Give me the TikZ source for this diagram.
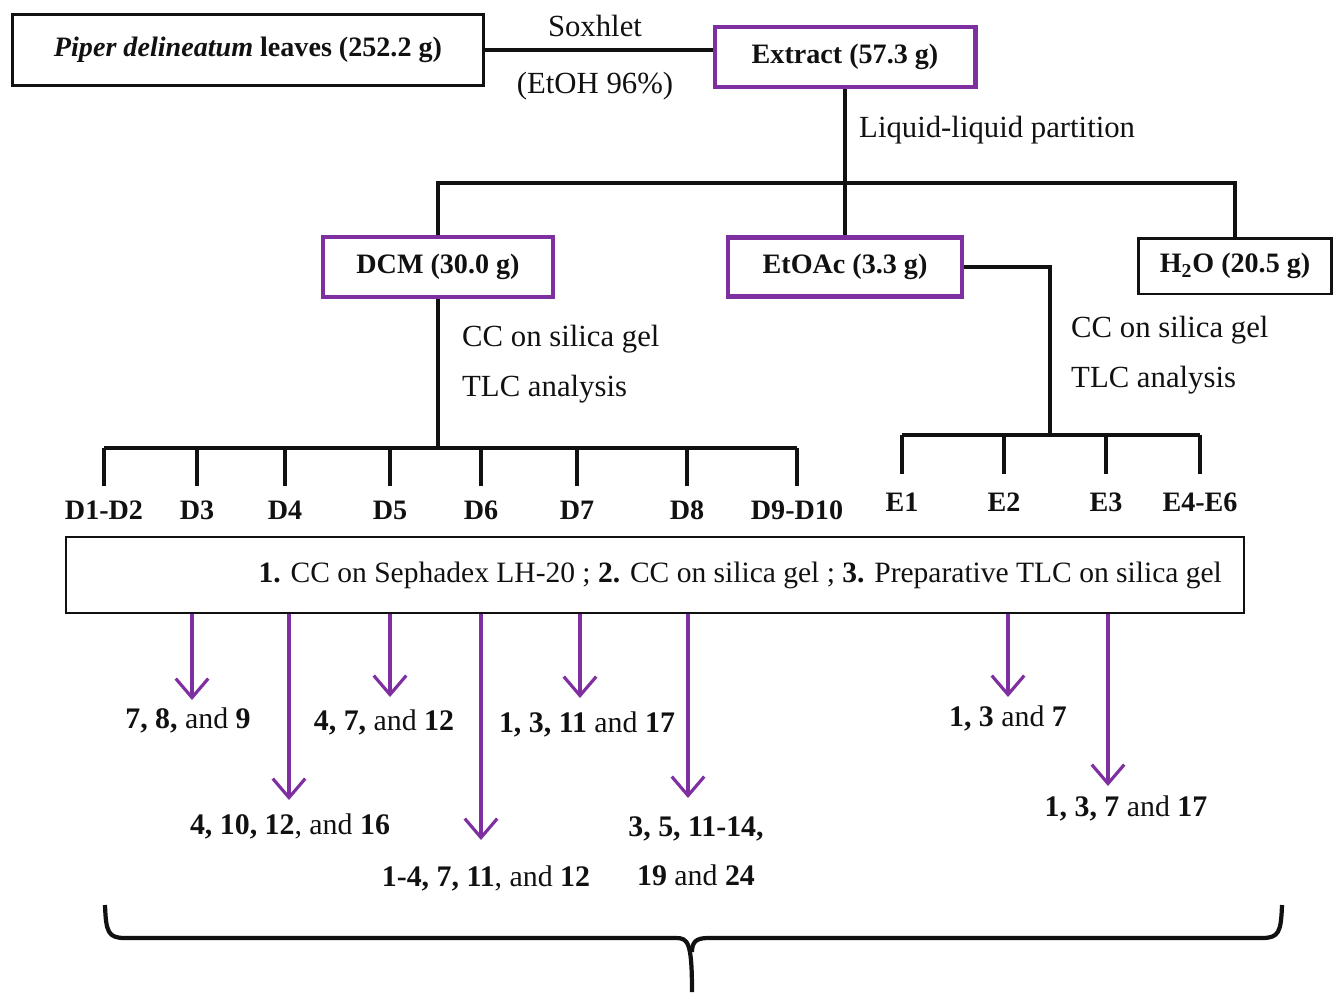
\documentclass[tikz,border=0pt]{standalone}
\usepackage{fontspec}
\setmainfont{Liberation Serif}
\usetikzlibrary{arrows.meta,positioning}
\definecolor{Plum}{HTML}{7F30A0}
\definecolor{Ink}{HTML}{111111}
\tikzset{
  txt/.style={font=\fontsize{17.5}{20}\selectfont,text=Ink},
  lab/.style={txt,font=\fontsize{16}{19}\selectfont\bfseries},
  box/.style={lab,draw=Ink,line width=1.7pt,inner sep=0pt},
  pbox/.style={box,draw=Plum,line width=2.3pt},
  link/.style={Ink,line width=2.8pt},
  arr/.style={Plum,line width=1.8pt,-{Straight Barb[length=3.8mm,width=6.5mm,line width=1.8pt]}}
}
\begin{document}
\begin{tikzpicture}[x=0.02cm,y=-0.02cm]
  \useasboundingbox (0,0) rectangle (1336,992);
  % extraction
  \node[box,minimum width=9.44cm,minimum height=1.42cm] (src) at (248,50)
    {\textit{Piper delineatum} leaves (252.2 g)};
  \node[pbox,minimum width=5.22cm,minimum height=1.2cm] (ext) at (845,57) {Extract (57.3 g)};
  \draw[link] (src.east) -- (src.east -| ext.west);
  \node[txt] (sox) at (595,26) {Soxhlet};
  \node[txt] (etoh) at (595,86) {(EtOH 96\%)};
  % partition
  \node[pbox,minimum width=4.6cm,minimum height=1.2cm] (dcm) at (438,267) {DCM (30.0 g)};
  \node[pbox,minimum width=4.68cm,minimum height=1.18cm] (eto) at (845,267) {EtOAc (3.3 g)};
  \node[box,minimum width=3.86cm,minimum height=1.12cm] (wat) at (1235,266)
    {H\textsubscript{2}O (20.5 g)};
  \coordinate (split) at (845,183);
  \draw[link] (ext.south) -- (split);
  \draw[link] (dcm.north) |- (split) -| (wat.north);
  \draw[link] (split) -- (eto.north);
  \node[txt,anchor=west] (llp) at (853,130) {Liquid-liquid partition};
  % DCM fractions
  \coordinate (dbar) at (438,448);
  \draw[link] (dcm.south) -- (dbar);
  \node[txt,anchor=west] (dcc) at (456,339) {CC on silica gel};
  \node[txt,anchor=west] (dtlc) at (456,389) {TLC analysis};
  \foreach \x/\t [count=\i] in {104/D1-D2,197/D3,285/D4,390/D5,481/D6,577/D7,687/D8,797/D9-D10}
  {
    \node[lab] (d\i) at (\x,510) {\t};
    \draw[link] (dbar -| d\i) -- ([yshift=5pt]d\i.north);
  }
  \draw[link] (dbar -| d1) -- (dbar -| d8);
  % EtOAc fractions
  \coordinate (ebar) at (1050,435);
  \draw[link] (eto.east) -| (ebar);
  \node[txt,anchor=west] (ecc) at (1065,330) {CC on silica gel};
  \node[txt,anchor=west] (etlc) at (1065,380) {TLC analysis};
  \foreach \x/\t [count=\i] in {902/E1,1004/E2,1106/E3,1200/E4-E6}
  {
    \node[lab] (e\i) at (\x,502) {\t};
    \draw[link] (ebar -| e\i) -- ([yshift=7pt]e\i.north);
  }
  \draw[link] (ebar -| e1) -- (ebar -| e4);
  % purification
  \node[txt,font=\fontsize{16.8}{19}\selectfont,draw=Ink,line width=1.5pt,minimum height=1.52cm,
        inner xsep=0.44cm,text width=22.68cm,align=flush right] (steps) at (655,575)
    {\textbf{1.} CC on Sephadex LH-20 ; \textbf{2.} CC on silica gel ; \textbf{3.} Preparative TLC on silica gel};
  \foreach \x/\y/\lx/\ly/\t [count=\i] in {
    192/700/188/720/{\textbf{7, 8,} and \textbf{9}},
    289/800/290/826/{\textbf{4, 10, 12}, and \textbf{16}},
    390/697/384/722/{\textbf{4, 7,} and \textbf{12}},
    481/840/486/878/{\textbf{1-4, 7, 11}, and \textbf{12}},
    580/698/587/724/{\textbf{1, 3, 11} and \textbf{17}},
    688/798/696/851/{\textbf{3, 5, 11-14,}\\\textbf{19} and \textbf{24}},
    1008/697/1008/718/{\textbf{1, 3} and \textbf{7}},
    1108/786/1126/808/{\textbf{1, 3, 7} and \textbf{17}}}
  {
    \coordinate (t\i) at (\x,\y);
    \draw[arr] (steps.south -| t\i) -- (t\i);
    \node[txt,font=\fontsize{17}{28}\selectfont,align=center] (c\i) at (\lx,\ly) {\t};
  }
  % brace
  \draw[Ink,line width=2.4pt] (105,905) .. controls (106,932) and (108,938) .. (125,938)
    -- (676,938) .. controls (688,938) and (692,942) .. (692,992);
  \draw[Ink,line width=2.4pt] (1282,905) .. controls (1281,932) and (1279,938) .. (1262,938)
    -- (708,938) .. controls (696,938) and (692,942) .. (692,952);
\end{tikzpicture}
\end{document}
